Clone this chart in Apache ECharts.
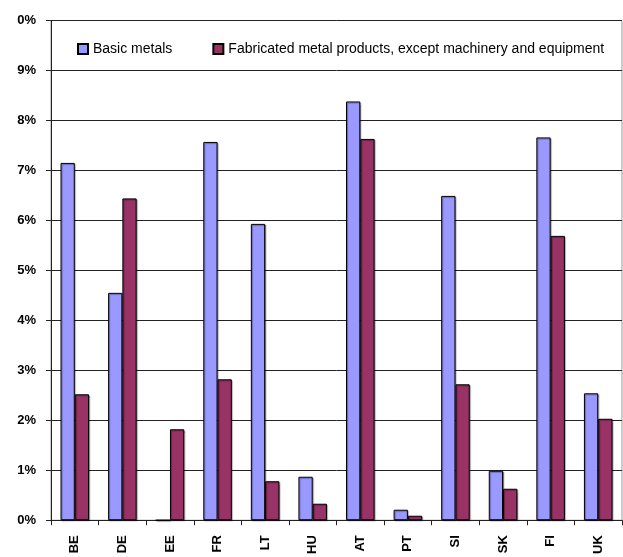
<!DOCTYPE html>
<html>
<head>
<meta charset="utf-8">
<script src="https://cdn.jsdelivr.net/npm/echarts@6/dist/echarts.min.js"></script>
<style>html,body{margin:0;padding:0;background:#fff}#c{width:623px;height:557px}</style>
</head>
<body>
<div id="c"></div>
<script>
var categories = ['BE','DE','EE','FR','LT','HU','AT','PT','SI','SK','FI','UK'];
var basicMetals = [7.15, 4.55, 0, 7.57, 5.93, 0.87, 8.38, 0.21, 6.49, 0.99, 7.66, 2.54];
var fabricated = [2.52, 6.44, 1.82, 2.82, 0.78, 0.33, 7.63, 0.09, 2.72, 0.63, 5.69, 2.03];
var seriesNames = ['Basic metals', 'Fabricated metal products, except machinery and equipment'];
var yTickLabels = ['0%','1%','2%','3%','4%','5%','6%','7%','8%','9%','0%'];

var chart = echarts.init(document.getElementById('c'), null, {renderer:'canvas'});
var font = 'Liberation Sans, Arial, sans-serif';
var barStyle = function(color){
  return {color: color, borderColor: '#000', borderWidth: 1,
          shadowColor: 'rgba(0,0,0,0.35)', shadowBlur: 1, shadowOffsetX: 1, shadowOffsetY: 1};
};
chart.setOption({
  animation: false,
  backgroundColor: '#fff',
  grid: {left: 51, right: 1, top: 20.5, bottom: 35.5, show: true, borderColor: '#999', borderWidth: 1},
  legend: {
    left: 72, top: 37, itemWidth: 10, itemHeight: 10, itemGap: 40,
    icon: 'rect',
    textStyle: {fontFamily: font, fontSize: 14, color: '#000'},
    data: seriesNames
  },
  xAxis: {
    type: 'category', data: categories,
    axisLine: {lineStyle: {color: '#222', width: 1}},
    axisTick: {show: true, length: 5, lineStyle: {color: '#222'}},
    axisLabel: {rotate: 90, interval: 0, margin: 15, fontFamily: font, fontSize: 13, fontWeight: 'bold', color: '#000'}
  },
  yAxis: {
    type: 'value', min: 0, max: 10, interval: 1,
    axisLine: {show: true, lineStyle: {color: '#222', width: 1}},
    axisTick: {show: true, length: 5, lineStyle: {color: '#222'}},
    splitLine: {show: true, lineStyle: {color: '#222', width: 1}},
    axisLabel: {margin: 15, fontFamily: font, fontSize: 13, fontWeight: 'bold', color: '#000',
      formatter: function(v){ return yTickLabels[Math.round(v)]; }}
  },
  series: [
    {name: seriesNames[0], type: 'bar', data: basicMetals, barGap: '0%', barCategoryGap: '40%',
     itemStyle: barStyle('#9999FF')},
    {name: seriesNames[1], type: 'bar', data: fabricated, barGap: '0%', barCategoryGap: '40%',
     itemStyle: barStyle('#993366')}
  ]
});
</script>
</body>
</html>
